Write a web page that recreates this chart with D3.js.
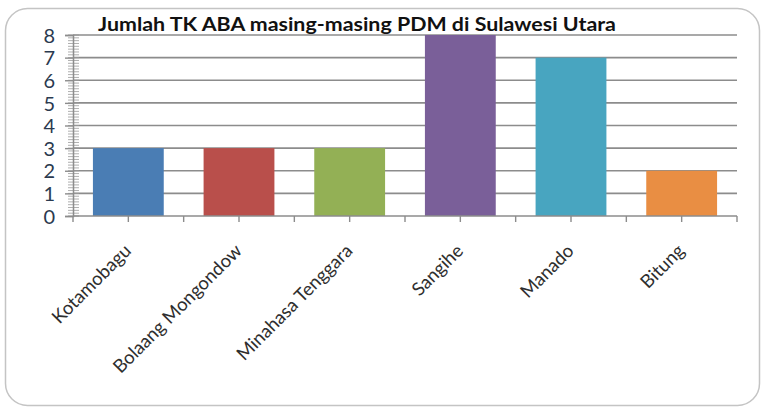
<!DOCTYPE html>
<html>
<head>
<meta charset="utf-8">
<script src="https://cdn.jsdelivr.net/npm/d3@7"></script>
<style>
  body { margin: 0; background: #fff; }
  svg text { font-family: Lato, "Open Sans", sans-serif; }
</style>
</head>
<body>
<div id="chart-area"></div>
<script>
const chartAreaWidth = 765
const chartAreaHeight = 410

const titleText = "Jumlah TK ABA masing-masing PDM di Sulawesi Utara"
const categories = ["Kotamobagu", "Bolaang Mongondow", "Minahasa Tenggara", "Sangihe", "Manado", "Bitung"]
const values = [3, 3, 3, 8, 7, 2]
const barColors = ["#4a7db4", "#b94f4b", "#93b055", "#7a5f99", "#48a5c0", "#e98e43"]
const yTicks = [0, 1, 2, 3, 4, 5, 6, 7, 8]

const margin = {top: 35, right: 28, bottom: 194, left: 73}
const width = chartAreaWidth - margin.left - margin.right
const height = chartAreaHeight - margin.top - margin.bottom

const svg = d3.select("#chart-area").append("svg")
    .attr("width", chartAreaWidth)
    .attr("height", chartAreaHeight)

// outer frame
svg.append("rect")
    .attr("x", 5.5).attr("y", 8.5)
    .attr("width", 754).attr("height", 397)
    .attr("rx", 22).attr("ry", 22)
    .style("fill", "#fff")
    .style("stroke", "#c4c4c4")
    .style("stroke-width", 1.5)

const g = svg.append("g")
    .attr("transform", `translate(${margin.left}, ${margin.top})`)

const x = d3.scaleBand()
    .domain(categories)
    .range([0, width])
    .paddingInner(0.36)
    .paddingOuter(0.18)

// full band width for category boundaries
const xFull = d3.scaleBand().domain(categories).range([0, width]).padding(0)

const y = d3.scaleLinear()
    .domain([0, 8])
    .range([height, 0])

// gridlines
g.append("g")
    .attr("class", "grid")
    .selectAll("line")
    .data(yTicks.filter(d => d > 0))
    .enter().append("line")
    .attr("x1", 0).attr("x2", width)
    .attr("y1", d => y(d)).attr("y2", d => y(d))
    .style("stroke", "#8c8c8c")
    .style("stroke-width", 1.6)

// bars
g.selectAll(".bar")
    .data(categories)
    .enter().append("rect")
    .attr("class", "bar")
    .attr("x", d => x(d))
    .attr("y", (d, i) => y(values[i]))
    .attr("width", x.bandwidth())
    .attr("height", (d, i) => height - y(values[i]))
    .style("fill", (d, i) => barColors[i])

// minor ticks on y axis
const minorTicks = d3.range(0, 8.001, 0.125)
g.append("g")
    .selectAll("line")
    .data(minorTicks)
    .enter().append("line")
    .attr("x1", -5).attr("x2", 6)
    .attr("y1", d => y(d)).attr("y2", d => y(d))
    .style("stroke", "#9a9a9a")
    .style("stroke-width", 0.8)

// y axis
const yAxisCall = d3.axisLeft(y)
    .tickValues(yTicks)
    .tickSize(8)
    .tickPadding(10)
    .tickFormat(d3.format("d"))

const yAxis = g.append("g")
    .attr("class", "y axis")
    .call(yAxisCall)
yAxis.select(".domain").style("stroke", "#8c8c8c").style("stroke-width", 1.5)
yAxis.selectAll(".tick line").style("stroke", "#8c8c8c").style("stroke-width", 1.4)
yAxis.selectAll("text")
    .style("font-size", "20px")
    .style("fill", "#2b3a4f")
    .attr("dy", "0.36em")

// x axis: ticks at boundaries and centers
const xTickPos = []
categories.forEach(c => {
    xTickPos.push(xFull(c))
    xTickPos.push(xFull(c) + xFull.bandwidth() / 2)
})
xTickPos.push(width)

g.append("line")
    .attr("x1", 0).attr("x2", width)
    .attr("y1", height).attr("y2", height)
    .style("stroke", "#8c8c8c")
    .style("stroke-width", 1.5)

g.append("g")
    .selectAll("line")
    .data(xTickPos)
    .enter().append("line")
    .attr("x1", d => d).attr("x2", d => d)
    .attr("y1", height).attr("y2", height + 6)
    .style("stroke", "#8c8c8c")
    .style("stroke-width", 1.4)

// x labels rotated
g.append("g")
    .selectAll("text")
    .data(categories)
    .enter().append("text")
    .attr("transform", d => `translate(${xFull(d) + xFull.bandwidth() / 2 + 4}, ${height + 36}) rotate(-45)`)
    .attr("text-anchor", "end")
    .style("font-size", "18.5px")
    .style("fill", "#2e2e2e")
    .text(d => d)

// title
svg.append("text")
    .attr("x", 98)
    .attr("y", 31)
    .attr("textLength", 518)
    .attr("lengthAdjust", "spacingAndGlyphs")
    .style("font-size", "18px")
    .style("font-weight", "bold")
    .style("fill", "#111")
    .text(titleText)
</script>
</body>
</html>
